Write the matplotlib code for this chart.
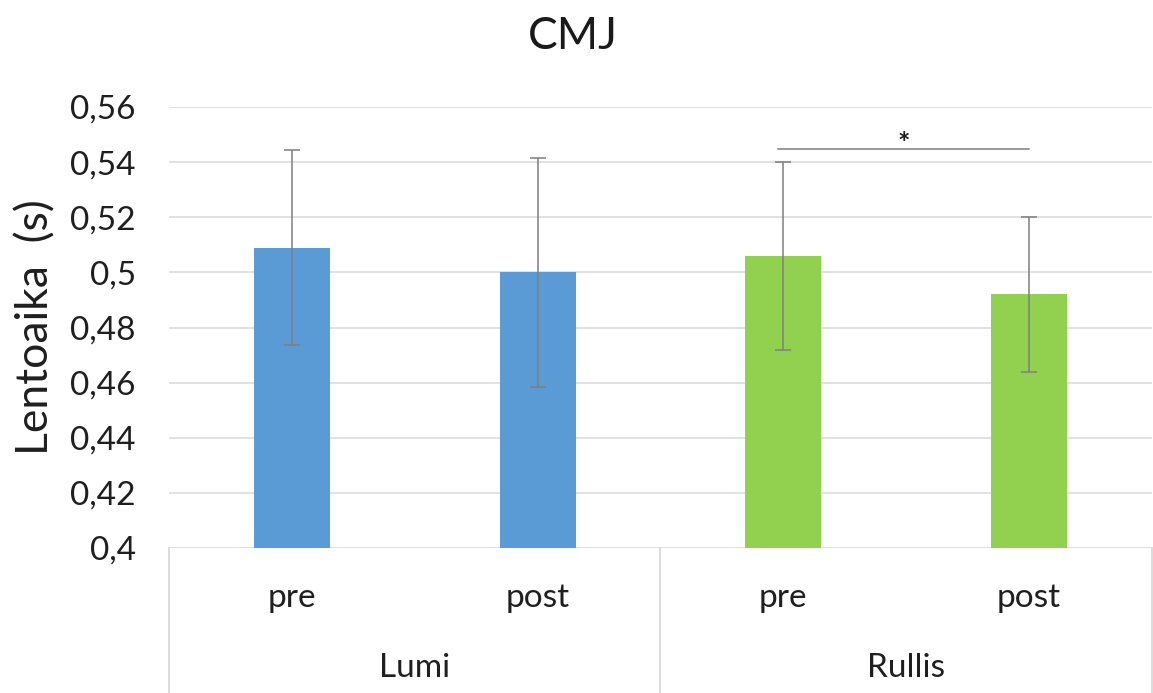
import matplotlib.pyplot as plt
from matplotlib.transforms import blended_transform_factory

plt.rcParams['font.family'] = ['Lato', 'DejaVu Sans']

# Flight time (s), mean and SD per measurement
groups = ['Lumi', 'Rullis']
phases = ['pre', 'post', 'pre', 'post']
means = [0.509, 0.500, 0.506, 0.492]
sds = [0.0355, 0.0415, 0.034, 0.028]
colors = ['#5B9BD5', '#5B9BD5', '#92D050', '#92D050']
yticks = [0.40, 0.42, 0.44, 0.46, 0.48, 0.50, 0.52, 0.54, 0.56]
ytick_labels = ['0,4', '0,42', '0,44', '0,46', '0,48', '0,5', '0,52', '0,54', '0,56']
sig_level = 0.5448

fig = plt.figure(figsize=(11.53, 6.93), dpi=100)
ax = fig.add_axes([0.1466, 0.2092, 0.8525, 0.6364])

x = range(len(means))
ax.bar(x, means, width=0.31, color=colors, zorder=2)
ax.errorbar(x, means, yerr=sds, fmt='none', ecolor='#7f7f7f', elinewidth=1.1,
            capsize=6, capthick=1.1, zorder=3)

ax.set_xlim(-0.5, 3.5)
ax.set_ylim(0.4, 0.56)
ax.set_yticks(yticks)
ax.set_yticklabels(ytick_labels, fontsize=24, color='#1f1f1f')
ax.tick_params(axis='y', length=0, pad=24)
ax.set_xticks([])
ax.yaxis.grid(True, color='#d9d9d9', linewidth=1.1, zorder=0)
ax.set_axisbelow(True)
for s in ax.spines.values():
    s.set_visible(False)

ax.set_ylabel('Lentoaika  (s)', fontsize=32, color='#1f1f1f', labelpad=10)
fig.text(0.497, 0.948, 'CMJ', fontsize=32, ha='center', va='center', color='#1a1a1a')

# significance bar between Rullis pre and post
ax.plot([1.98, 3.0], [sig_level, sig_level], color='#7f7f7f', linewidth=1.1, zorder=3)
ax.text(2.49, sig_level - 0.0028, '*', fontsize=21, fontweight='bold',
        ha='center', va='bottom', color='#1f1f1f')

# two-level category axis drawn as a table below the plot
tr = blended_transform_factory(ax.transData, fig.transFigure)
for xv in [-0.5, 1.5, 3.5]:
    ax.plot([xv, xv], [0.2092, 0.0], transform=tr, color='#d9d9d9', linewidth=1.3, clip_on=False)
for i, p in enumerate(phases):
    ax.text(i, 0.137, p, transform=tr, fontsize=24, ha='center', va='center', color='#1f1f1f')
for i, g in enumerate(groups):
    ax.text(0.5 + 2 * i, 0.036, g, transform=tr, fontsize=24, ha='center', va='center', color='#1f1f1f')

fig.savefig('out.png', dpi=100, facecolor='white')
